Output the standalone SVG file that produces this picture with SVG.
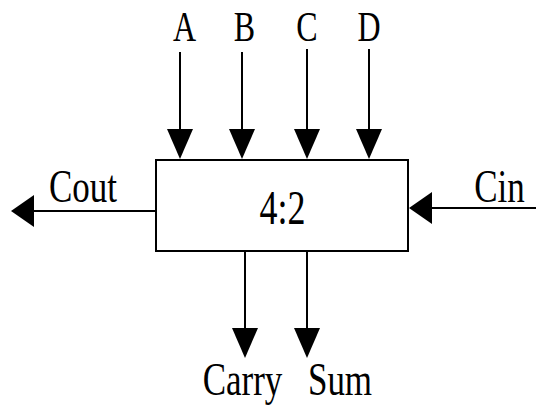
<svg xmlns="http://www.w3.org/2000/svg" width="536" height="405" viewBox="0 0 536 405">
<style>
.ln{stroke:#000;stroke-width:2;fill:none}
.box{stroke:#000;stroke-width:2;fill:#fff}
.t{font-family:"Liberation Serif","Times New Roman",serif;font-size:35px;fill:#000;text-anchor:middle}
.s{font-size:32px}
</style>
<defs>
<polygon id="ahDown" points="0,0 -13,-30 13,-30" fill="#000"/>
<polygon id="ahLeft" points="0,0 23,-16 23,16" fill="#000"/>
</defs>
<rect width="536" height="405" fill="#fff"/>
<g id="connectors">
<line class="ln" x1="180" y1="52" x2="180" y2="150"/>
<use href="#ahDown" x="180" y="159"/>
<line class="ln" x1="242" y1="52" x2="242" y2="150"/>
<use href="#ahDown" x="242" y="159"/>
<line class="ln" x1="307" y1="49" x2="307" y2="150"/>
<use href="#ahDown" x="307" y="159"/>
<line class="ln" x1="369" y1="49" x2="369" y2="150"/>
<use href="#ahDown" x="369" y="159"/>
<line class="ln" x1="156" y1="211" x2="25" y2="211"/>
<use href="#ahLeft" x="11" y="211"/>
<line class="ln" x1="536" y1="208" x2="420" y2="208"/>
<use href="#ahLeft" x="409" y="208"/>
<line class="ln" x1="245" y1="251" x2="245" y2="345"/>
<use href="#ahDown" x="245" y="358"/>
<line class="ln" x1="307" y1="251" x2="307" y2="345"/>
<use href="#ahDown" x="307" y="358"/>
</g>
<g id="node-42">
<rect class="box" x="156" y="160" width="252" height="91"/>
<text class="t" transform="translate(282.5,224) scale(1,1.35)" style="font-size:36px">4:2</text>
</g>
<g id="in-A"><text class="t s" transform="translate(184.5,41) scale(1,1.35)">A</text></g>
<g id="in-B"><text class="t s" transform="translate(244.5,41) scale(1,1.35)">B</text></g>
<g id="in-C"><text class="t s" transform="translate(307,41) scale(1,1.35)">C</text></g>
<g id="in-D"><text class="t s" transform="translate(369,41) scale(1,1.35)">D</text></g>
<g id="out-Cout"><text class="t" transform="translate(83,202) scale(1,1.35)">Cout</text></g>
<g id="in-Cin"><text class="t" transform="translate(499.5,202) scale(1,1.35)">Cin</text></g>
<g id="out-Carry"><text class="t" transform="translate(242.5,395) scale(1,1.3)">Carry</text></g>
<g id="out-Sum"><text class="t" transform="translate(340,395) scale(1,1.3)">Sum</text></g>
</svg>
